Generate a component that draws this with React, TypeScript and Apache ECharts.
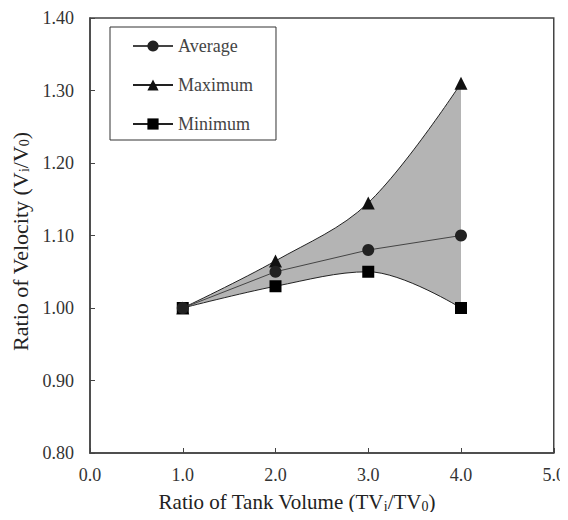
import React, { useEffect, useRef } from "react";
import * as echarts from "echarts";

const xValues = [1, 2, 3, 4];
const averageValues = [1.0, 1.05, 1.08, 1.1];
const maximumValues = [1.0, 1.065, 1.145, 1.31];
const minimumValues = [1.0, 1.03, 1.05, 1.0];
const seriesNames = ["Average", "Maximum", "Minimum"];

const FONT = "Liberation Serif";

export default function App() {
  const ref = useRef<HTMLDivElement>(null);
  useEffect(() => {
    if (!ref.current) return;
    const chart = echarts.init(ref.current, undefined, { renderer: "svg" });
    const pairs = (ys: number[]) => xValues.map((x, i) => [x, ys[i]]);
    const subStyle = { fontFamily: FONT, fontSize: 14, color: "#222", verticalAlign: "bottom", padding: [9, 0, 0, 0] };
    chart.setOption({
      animation: false,
      backgroundColor: "#fff",
      textStyle: { fontFamily: FONT },
      grid: {
        left: 90,
        top: 18,
        right: 11,
        bottom: 67,
        show: true,
        borderColor: "#444",
        borderWidth: 1.5,
        backgroundColor: "transparent",
      },
      legend: {
        data: seriesNames,
        orient: "vertical",
        left: 110,
        top: 27,
        padding: [10, 23, 7, 22],
        itemGap: 21,
        itemWidth: 40,
        itemHeight: 14,
        borderColor: "#333",
        borderWidth: 1,
        backgroundColor: "#fff",
        textStyle: { fontFamily: FONT, fontSize: 18, color: "#444", lineHeight: 18 },
      },
      xAxis: {
        type: "value",
        min: 0,
        max: 5,
        interval: 1,
        z: 10,
        name: "Ratio of Tank Volume (TV{sub|i}/TV{sub|0})",
        nameLocation: "middle",
        nameGap: 37,
        nameTextStyle: { fontFamily: FONT, fontSize: 21, color: "#222", padding: [0, 50, 0, 0], rich: { sub: subStyle } },
        axisLine: { show: true, lineStyle: { color: "#444", width: 1.5 } },
        axisTick: { show: true, inside: true, length: 5, lineStyle: { color: "#444" } },
        axisLabel: { fontFamily: FONT, fontSize: 18, color: "#333", margin: 13, formatter: (v: number) => v.toFixed(1) },
        splitLine: { show: false },
      },
      yAxis: {
        type: "value",
        min: 0.8,
        max: 1.4,
        interval: 0.1,
        z: 10,
        name: "Ratio of Velocity (V{sub|i}/V{sub|0})",
        nameLocation: "middle",
        nameGap: 54,
        nameRotate: 90,
        nameTextStyle: { fontFamily: FONT, fontSize: 22, color: "#222", padding: [0, 12, 0, 0], rich: { sub: subStyle } },
        axisLine: { show: true, lineStyle: { color: "#444", width: 1.5 } },
        axisTick: { show: true, inside: true, length: 5, lineStyle: { color: "#444" } },
        axisLabel: { fontFamily: FONT, fontSize: 18, color: "#333", margin: 16, formatter: (v: number) => v.toFixed(2) },
        splitLine: { show: false },
      },
      series: [
        {
          name: "Maximum",
          type: "line",
          data: pairs(maximumValues),
          smooth: 0.35,
          symbol: "triangle",
          symbolSize: 13,
          z: 2,
          itemStyle: { color: "#111" },
          lineStyle: { color: "#222", width: 1 },
          areaStyle: { color: "#b4b4b4", opacity: 1, origin: 1.0 },
        },
        {
          name: "Minimum",
          type: "line",
          data: pairs(minimumValues),
          smooth: 0.35,
          symbol: "rect",
          symbolSize: 12,
          z: 3,
          itemStyle: { color: "#000" },
          lineStyle: { color: "#222", width: 1 },
          areaStyle: { color: "#ffffff", opacity: 1, origin: 1.0 },
        },
        {
          name: "Average",
          type: "line",
          data: pairs(averageValues),
          smooth: false,
          symbol: "circle",
          symbolSize: 12,
          z: 4,
          itemStyle: { color: "#222" },
          lineStyle: { color: "#444", width: 1 },
        },
      ],
    });
    return () => chart.dispose();
  }, []);
  return <div ref={ref} style={{ width: 568, height: 520, margin: -8 }} />;
}
